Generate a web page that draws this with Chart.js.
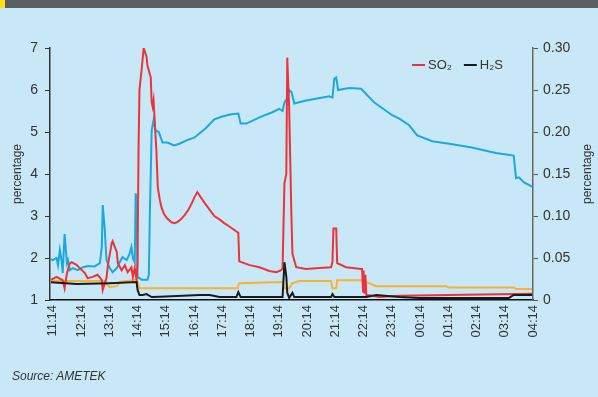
<!DOCTYPE html>
<html>
<head>
<meta charset="utf-8">
<script src="https://cdn.jsdelivr.net/npm/chart.js@4.4.0/dist/chart.umd.min.js"></script>
<style>
  html, body { margin: 0; padding: 0; background: #c8e8f8; }
  #wrap { position: relative; width: 598px; height: 397px; overflow: hidden; }
  #banner { position: absolute; left: 5px; top: 0; width: 593px; height: 8px; background: #5b5f63; }
  #mark { position: absolute; left: 0; top: 0; width: 5px; height: 8px; background: #ffe21a; }
  #source { position: absolute; left: 12px; top: 369px; font: italic 12px "Liberation Sans", Arial, sans-serif; color: #333; }
  canvas { position: absolute; left: 0; top: 0; }
</style>
</head>
<body>
<div id="wrap">
  <canvas id="grafico" width="598" height="397"></canvas>
  <div id="banner"></div>
  <div id="mark"></div>
  <div id="source">Source: AMETEK</div>
</div>
<script>
const tickLabels = ['11:14', '12:14', '13:14', '14:14', '15:14', '16:14', '17:14', '18:14', '19:14',
  '20:14', '21:14', '22:14', '23:14', '00:14', '01:14', '02:14', '03:14', '04:14'];

// SO2, left axis (percentage)
const so2Times = ['11:10', '11:22', '11:35', '11:39', '11:44', '11:50', '11:54', '12:05', '12:11', '12:22',
  '12:28', '12:39', '12:49', '12:58', '13:00', '13:08', '13:11', '13:19', '13:21', '13:30', '13:32', '13:40',
  '13:47', '13:53', '14:01', '14:04', '14:08', '14:12', '14:14', '14:16', '14:18', '14:23', '14:27', '14:33',
  '14:35', '14:42', '14:44', '14:46', '14:48', '14:50', '14:54', '14:57', '15:01', '15:05', '15:10', '15:16',
  '15:26', '15:33', '15:39', '15:46', '15:54', '16:02', '16:09', '16:15', '16:21', '16:28', '16:36', '16:47',
  '16:57', '17:08', '17:18', '17:29', '17:38', '17:44', '17:48', '17:50', '18:12',
  '18:33', '18:54', '19:09', '19:19', '19:22', '19:26', '19:30', '19:32', '19:36', '19:41', '19:43', '19:51',
  '20:12', '20:40', '21:05', '21:08', '21:10', '21:16', '21:18', '21:37', '22:09', '22:11', '22:13', '22:14',
  '22:16', '22:18', '22:20', '22:22', '22:47', '23:30', '04:12'];
const so2Values = [1.48, 1.55, 1.47, 1.28, 1.64, 1.87, 1.90, 1.83, 1.76, 1.64,
  1.52, 1.55, 1.60, 1.48, 1.24, 1.52, 1.83, 2.35, 2.40, 2.14, 1.88, 1.71,
  1.83, 1.66, 1.78, 1.55, 1.76, 1.48, 1.90, 4.50, 6.00, 6.53, 7.00, 6.80,
  6.58, 6.30, 5.70, 5.60, 5.75, 5.35, 4.56, 3.68, 3.40, 3.20, 3.05, 2.95,
  2.85, 2.83, 2.86, 2.92, 3.02, 3.15, 3.30, 3.45, 3.57, 3.45, 3.32, 3.15,
  3.00, 2.92, 2.83, 2.75, 2.68, 2.63, 2.60, 1.92, 1.83,
  1.78, 1.69, 1.66, 1.71, 1.75, 3.78, 4.00, 6.77, 5.60, 2.90, 2.10, 1.78,
  1.74, 1.76, 1.78, 1.90, 2.70, 2.70, 1.88, 1.78, 1.74, 1.74, 1.20, 1.70,
  1.15, 1.60, 1.10, 1.12, 1.07, 1.10, 1.15];

// H2S, right axis (percentage)
const h2sTimes = ['11:10', '12:05', '13:15', '14:12', '14:14', '14:18', '14:25', '14:33', '14:44', '15:01',
  '15:50', '16:26', '16:47', '17:08', '17:44', '17:48', '17:53', '19:22', '19:26', '19:30', '19:32', '19:36',
  '19:43', '19:47', '21:05', '21:08', '21:12', '22:20', '22:41', '23:30', '00:12', '03:23', '03:33', '04:12'];
const h2sValues = [0.021, 0.019, 0.020, 0.0215, 0.012, 0.006, 0.006, 0.007, 0.0035, 0.004,
  0.005, 0.006, 0.006, 0.0035, 0.0035, 0.0095, 0.0035, 0.0035, 0.045, 0.0275, 0.0085, 0.0025,
  0.0085, 0.0035, 0.0035, 0.007, 0.0035, 0.0035, 0.006, 0.0035, 0.0025, 0.0025, 0.006, 0.006];

// unlabelled blue trace, left axis
const blueTimes = ['11:10', '11:14', '11:22', '11:25', '11:29', '11:33', '11:35', '11:39', '11:44', '11:46',
  '11:50', '11:56', '12:07', '12:18', '12:28', '12:43', '12:54', '12:58', '13:00', '13:04', '13:08', '13:15',
  '13:21', '13:30', '13:36', '13:42', '13:51', '13:57', '14:01', '14:04', '14:08', '14:10', '14:12', '14:14',
  '14:23', '14:35', '14:38', '14:40', '14:44', '14:48', '14:52', '14:59', '15:07', '15:18', '15:31', '15:43',
  '15:58', '16:15', '16:26', '16:40', '16:57', '17:14', '17:33', '17:48', '17:53', '18:05', '18:33', '19:00',
  '19:15', '19:22', '19:26', '19:32', '19:36', '19:41', '19:47', '20:12', '21:01', '21:08', '21:12', '21:16',
  '21:20', '21:44', '22:09', '22:20', '22:37', '23:15', '23:30', '23:51', '00:08', '00:40', '01:16', '02:04',
  '02:55', '03:33', '03:38', '03:44', '03:55', '04:12'];
const blueValues = [1.97, 1.95, 2.00, 1.83, 2.19, 1.90, 1.64, 2.57, 1.88, 1.95,
  1.71, 1.76, 1.71, 1.78, 1.81, 1.80, 1.88, 2.26, 3.26, 2.73, 1.95, 1.76,
  1.66, 1.76, 1.90, 2.02, 1.95, 2.10, 2.26, 2.00, 1.90, 3.54, 3.38, 1.55,
  1.48, 1.48, 1.60, 3.00, 5.04, 5.28, 5.04, 5.00, 4.75, 4.75, 4.68, 4.72,
  4.80, 4.87, 4.97, 5.10, 5.30, 5.37, 5.42, 5.44, 5.20, 5.20, 5.35, 5.47,
  5.55, 5.50, 5.70, 5.80, 6.00, 5.95, 5.68, 5.75, 5.85, 5.82, 6.27, 6.30,
  6.00, 6.05, 6.03, 5.90, 5.70, 5.40, 5.32, 5.16, 4.92, 4.78, 4.72, 4.63,
  4.50, 4.44, 3.90, 3.92, 3.80, 3.70];

// unlabelled orange trace, left axis
const orangeTimes = ['11:10', '13:04', '13:08', '13:15', '13:30', '13:36', '14:04', '14:12', '14:18', '17:46',
  '17:50', '19:22', '19:26', '19:36', '19:43', '19:58', '21:05', '21:08', '21:16', '21:18', '22:11', '22:26',
  '22:41', '01:09', '01:14', '03:33', '03:38', '04:12'];
const orangeValues = [1.45, 1.45, 1.38, 1.31, 1.33, 1.43, 1.47, 1.50, 1.28, 1.28,
  1.40, 1.43, 1.28, 1.28, 1.40, 1.45, 1.45, 1.28, 1.28, 1.47, 1.47, 1.40,
  1.33, 1.33, 1.30, 1.30, 1.26, 1.26];

// minutes after 11:14, running past midnight
function toMinutes(t) {
  const [h, m] = t.split(':').map(Number);
  let mins = h * 60 + m - (11 * 60 + 14);
  if (h < 11) mins += 24 * 60;
  return mins;
}
const points = (times, values) => times.map((t, i) => ({ x: toMinutes(t), y: values[i] }));

const fontFamily = '"Liberation Sans", Arial, sans-serif';
const textColor = '#333';

// right-hand title reads bottom-to-top like the left one
const rightTitle = {
  id: 'rightTitle',
  afterDraw(chart) {
    const { ctx, chartArea } = chart;
    const scale = chart.scales.y2;
    ctx.save();
    ctx.translate(scale.right - 10, (chartArea.top + chartArea.bottom) / 2);
    ctx.rotate(-Math.PI / 2);
    ctx.font = '12px ' + fontFamily;
    ctx.fillStyle = textColor;
    ctx.textAlign = 'center';
    ctx.textBaseline = 'middle';
    ctx.fillText('percentage', 0, 0);
    ctx.restore();
  }
};

// small one-row legend inside the plot, top right
const inlineLegend = {
  id: 'inlineLegend',
  afterDraw(chart) {
    const { ctx, chartArea } = chart;
    let x = chartArea.right - 121;
    const y = chartArea.top + 17;
    ctx.save();
    ctx.font = '13px ' + fontFamily;
    ctx.textBaseline = 'middle';
    chart.data.datasets.filter(d => d.label).forEach(d => {
      ctx.strokeStyle = d.borderColor;
      ctx.lineWidth = 2;
      ctx.beginPath();
      ctx.moveTo(x, y);
      ctx.lineTo(x + 13, y);
      ctx.stroke();
      ctx.fillStyle = textColor;
      ctx.fillText(d.label, x + 16, y);
      x += 16 + ctx.measureText(d.label).width + 12;
    });
    ctx.restore();
  }
};

const ctx = document.getElementById('grafico').getContext('2d');

new Chart(ctx, {
  type: 'line',
  data: {
    datasets: [
      { label: 'SO₂', data: points(so2Times, so2Values), borderColor: '#ee3338', yAxisID: 'y', order: 1 },
      { label: 'H₂S', data: points(h2sTimes, h2sValues), borderColor: '#1a1a1a', yAxisID: 'y2', order: 0 },
      { label: '', data: points(blueTimes, blueValues), borderColor: '#1ba8e0', yAxisID: 'y', order: 2 },
      { label: '', data: points(orangeTimes, orangeValues), borderColor: '#f8b133', yAxisID: 'y', order: 3 }
    ]
  },
  options: {
    responsive: false,
    animation: false,
    elements: {
      point: { radius: 0 },
      line: { borderWidth: 2, tension: 0 }
    },
    layout: { padding: { left: 0, right: 0, top: 48, bottom: 57 } },
    scales: {
      x: {
        type: 'linear',
        min: -6,
        max: 1020,
        afterBuildTicks: s => { s.ticks = tickLabels.map((_, i) => ({ value: i * 60 })); },
        afterFit: s => { s.height = 40; },
        ticks: {
          callback: v => tickLabels[Math.round(v / 60)],
          minRotation: 90,
          maxRotation: 90,
          autoSkip: false,
          padding: 5,
          color: textColor,
          font: { family: fontFamily, size: 13 }
        },
        grid: { display: false, drawTicks: false },
        border: { color: '#111', width: 1.5 }
      },
      y: {
        position: 'left',
        min: 1,
        max: 7,
        afterFit: s => { s.width = 50; },
        ticks: { stepSize: 1, padding: 7, color: textColor, font: { family: fontFamily, size: 14 } },
        grid: { drawOnChartArea: false, drawTicks: true, tickLength: 5, color: '#333' },
        border: { color: '#333', width: 1.5 },
        title: {
          display: true,
          text: 'percentage',
          color: textColor,
          font: { family: fontFamily, size: 12 },
          padding: { top: 10, bottom: 0 }
        }
      },
      y2: {
        position: 'right',
        min: 0,
        max: 0.3,
        afterFit: s => { s.width = 65; },
        ticks: {
          stepSize: 0.05,
          padding: 5,
          color: textColor,
          font: { family: fontFamily, size: 14 },
          callback: v => (Math.abs(v) < 1e-9 ? '0' : v.toFixed(2))
        },
        grid: { drawOnChartArea: false, drawTicks: true, tickLength: 5, color: '#555' },
        border: { color: '#666', width: 1.5 }
      }
    },
    plugins: {
      legend: { display: false },
      tooltip: { enabled: false }
    }
  },
  plugins: [rightTitle, inlineLegend]
});
</script>
</body>
</html>
